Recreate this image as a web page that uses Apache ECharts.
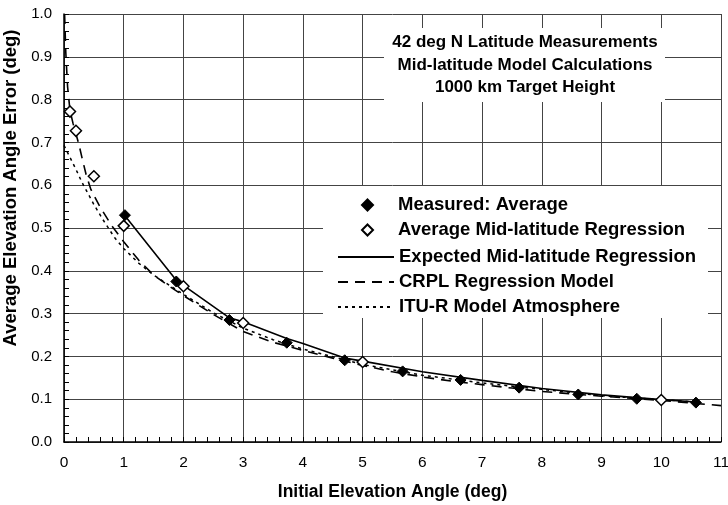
<!DOCTYPE html>
<html>
<head>
<meta charset="utf-8">
<script src="https://cdn.jsdelivr.net/npm/echarts@6/dist/echarts.min.js"></script>
<style>
  html, body { margin: 0; padding: 0; background: #fff; }
  #container { width: 728px; height: 505px; }
</style>
</head>
<body>
<div id="container"></div>
<script>
var dom = document.getElementById("container");
var myChart = echarts.init(dom);
var option;

var FONT = '"Liberation Sans", Arial, Helvetica, sans-serif';

// x ticks and y ticks
var xTicks = [0, 1, 2, 3, 4, 5, 6, 7, 8, 9, 10, 11];
var yTicks = [0.0, 0.1, 0.2, 0.3, 0.4, 0.5, 0.6, 0.7, 0.8, 0.9, 1.0];

var seriesNames = [
    'Measured: Average',
    'Average Mid-latitude Regression',
    'Expected Mid-latitude Regression',
    'CRPL Regression Model',
    'ITU-R Model Atmosphere'
];

// [elevation angle, error]
var measured = [
    [1.02, 0.530], [1.88, 0.375], [2.77, 0.285], [3.73, 0.232], [4.70, 0.191],
    [5.67, 0.165], [6.64, 0.145], [7.62, 0.127], [8.61, 0.111], [9.59, 0.101], [10.58, 0.092]
];
var avgRegression = [
    [0.1, 0.772], [0.2, 0.727], [0.5, 0.621], [1.0, 0.505], [2.0, 0.364],
    [3.0, 0.278], [5.0, 0.187], [10.0, 0.098]
];
var expected = [
    [1.0, 0.532], [1.88, 0.378], [2.0, 0.366], [2.77, 0.290], [3.0, 0.281],
    [3.73, 0.242], [4.0, 0.230], [4.7, 0.196], [5.0, 0.189], [6.0, 0.164],
    [7.0, 0.144], [8.0, 0.125], [9.0, 0.110], [10.0, 0.099], [10.65, 0.093]
];
var crpl = [
    [0.01, 1.0], [0.03, 0.91], [0.06, 0.83], [0.1, 0.775], [0.15, 0.745], [0.2, 0.72],
    [0.25, 0.695], [0.3, 0.665], [0.37, 0.625], [0.45, 0.59], [0.6, 0.55], [0.8, 0.505],
    [1.0, 0.468], [1.25, 0.425], [1.5, 0.39], [1.75, 0.365], [2.0, 0.342], [2.5, 0.298],
    [3.0, 0.258], [3.5, 0.233], [4.0, 0.214], [4.5, 0.196], [5.0, 0.179], [5.5, 0.164],
    [6.0, 0.152], [6.5, 0.142], [7.0, 0.134], [7.5, 0.126], [8.0, 0.118], [9.0, 0.107],
    [10.0, 0.097], [11.0, 0.085]
];
var itur = [
    [0.0, 0.693], [0.1, 0.665], [0.2, 0.637], [0.3, 0.607], [0.5, 0.555], [0.65, 0.52],
    [0.85, 0.477], [1.0, 0.452], [1.25, 0.418], [1.5, 0.39], [2.0, 0.345], [2.5, 0.302],
    [3.0, 0.266], [3.5, 0.239], [4.0, 0.217], [5.0, 0.181], [6.0, 0.156], [7.0, 0.138],
    [8.0, 0.123], [9.0, 0.108], [10.0, 0.099], [10.6, 0.093]
];

var noteLines = [
    '42 deg N Latitude Measurements',
    'Mid-latitude Model Calculations',
    '1000 km Target Height'
];

var legendText = {
    fontFamily: FONT, fontSize: 18.5, fontWeight: 'bold', color: '#000', lineHeight: 20
};

option = {
    animation: false,
    backgroundColor: '#fff',
    grid: { left: 64, right: 7, top: 14, bottom: 63, outerBoundsMode: 'none', containLabel: false },
    xAxis: {
        type: 'value',
        min: xTicks[0],
        max: xTicks[xTicks.length - 1],
        interval: 1,
        name: 'Initial Elevation Angle (deg)',
        nameLocation: 'middle',
        nameGap: 41,
        nameTextStyle: { fontFamily: FONT, fontSize: 17.5, fontWeight: 'bold', color: '#000' },
        axisLine: { onZero: false, lineStyle: { color: '#000', width: 1.5 } },
        axisTick: { inside: true, length: 5, lineStyle: { color: '#000' } },
        minorTick: { show: true, splitNumber: 5, length: 5, lineStyle: { color: '#000' } },
        splitLine: { show: true, lineStyle: { color: '#444', width: 1 } },
        axisLabel: { fontFamily: FONT, fontSize: 15.5, color: '#000', margin: 13 }
    },
    yAxis: {
        type: 'value',
        min: yTicks[0],
        max: yTicks[yTicks.length - 1],
        interval: 0.1,
        name: 'Average Elevation Angle Error (deg)',
        nameLocation: 'middle',
        nameGap: 38,
        nameTextStyle: {
            fontFamily: FONT, fontSize: 18.5, fontWeight: 'bold', color: '#000',
            padding: [0, 0, 0, 80]
        },
        axisLine: { onZero: false, lineStyle: { color: '#000', width: 1.5 } },
        axisTick: { inside: true, length: 5, lineStyle: { color: '#000' } },
        minorTick: { show: true, splitNumber: 5, length: 5, lineStyle: { color: '#000' } },
        splitLine: { show: true, lineStyle: { color: '#444', width: 1 } },
        axisLabel: {
            fontFamily: FONT, fontSize: 15, color: '#000', margin: 12,
            formatter: function (v) { return v.toFixed(1); }
        }
    },
    legend: [
        {
            data: seriesNames.slice(0, 2),
            orient: 'vertical',
            left: 361,
            top: 195,
            padding: 0,
            itemWidth: 11,
            itemHeight: 11,
            itemGap: 5,
            selectedMode: false,
            textStyle: Object.assign({ padding: [0, 0, 0, 20] }, legendText)
        },
        {
            data: seriesNames.slice(2),
            orient: 'vertical',
            left: 337,
            top: 247,
            padding: 0,
            itemWidth: 56,
            itemHeight: 12,
            itemGap: 5,
            selectedMode: false,
            itemStyle: { opacity: 0 },
            textStyle: legendText
        }
    ],
    graphic: [
        { type: 'rect', shape: { x: 384, y: 28, width: 281, height: 74 }, style: { fill: '#fff' }, z: 1 },
        {
            type: 'text', x: 525, y: 65, z: 5,
            style: {
                text: noteLines.join('\n'),
                align: 'center',
                verticalAlign: 'middle',
                font: 'bold 17px ' + FONT,
                lineHeight: 22.5,
                fill: '#000'
            }
        },
        { type: 'rect', shape: { x: 323, y: 186, width: 385, height: 132 }, style: { fill: '#fff' }, z: 1 }
    ],
    series: [
        {
            name: seriesNames[2], type: 'line', data: expected, symbol: 'none', z: 3,
            lineStyle: { color: '#000', width: 1.6, type: 'solid' }, itemStyle: { color: '#000' }
        },
        {
            name: seriesNames[3], type: 'line', data: crpl, symbol: 'none', z: 3,
            lineStyle: { color: '#000', width: 1.6, type: [10, 7] }, itemStyle: { color: '#000' }
        },
        {
            name: seriesNames[4], type: 'line', data: itur, symbol: 'none', z: 3,
            lineStyle: { color: '#000', width: 1.5, type: [3, 4] }, itemStyle: { color: '#000' }
        },
        {
            name: seriesNames[0], type: 'scatter', data: measured, symbol: 'diamond', symbolSize: 11, z: 4,
            itemStyle: { color: '#000', borderColor: '#000', borderWidth: 1, opacity: 1 }
        },
        {
            name: seriesNames[1], type: 'scatter', data: avgRegression, symbol: 'diamond', symbolSize: 11, z: 5,
            itemStyle: { color: '#fff', borderColor: '#000', borderWidth: 1.5, opacity: 1 }
        }
    ]
};

if (option && typeof option === 'object') {
    myChart.setOption(option);
}
</script>
</body>
</html>
